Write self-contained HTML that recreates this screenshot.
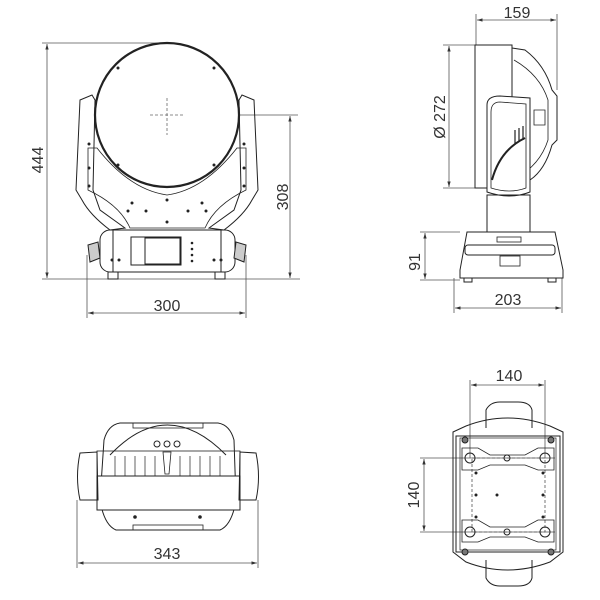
<!DOCTYPE html>
<html><head><meta charset="utf-8"><style>
html,body{margin:0;padding:0;background:#fff}
svg{display:block}
text{font-family:"Liberation Sans",sans-serif;font-size:16px;fill:#333}
</style></head><body>
<svg width="600" height="600" viewBox="0 0 600 600" xmlns="http://www.w3.org/2000/svg">
<defs>
<marker id="a" viewBox="0 0 10 10" refX="10" refY="5" markerWidth="7" markerHeight="7" orient="auto-start-reverse"><path d="M0,2 L10,5 L0,8z" fill="#333"/></marker>
</defs>
<g stroke="#555" stroke-width="0.8" fill="none">
<!-- front view dims -->
<line x1="42" y1="43" x2="167" y2="43"/>
<line x1="47" y1="44" x2="47" y2="278" marker-start="url(#a)" marker-end="url(#a)"/>
<line x1="42" y1="279" x2="300" y2="279"/>
<line x1="183" y1="115" x2="298" y2="115"/>
<line x1="290" y1="116" x2="290" y2="278" marker-start="url(#a)" marker-end="url(#a)"/>
<line x1="87" y1="255" x2="87" y2="318"/>
<line x1="246" y1="255" x2="246" y2="318"/>
<line x1="88" y1="313" x2="245" y2="313" marker-start="url(#a)" marker-end="url(#a)"/>
<!-- side view dims -->
<line x1="476" y1="14" x2="476" y2="45"/>
<line x1="557" y1="14" x2="557" y2="90"/>
<line x1="477" y1="20" x2="556" y2="20" marker-start="url(#a)" marker-end="url(#a)"/>
<line x1="443" y1="45" x2="475" y2="45"/>
<line x1="443" y1="188" x2="480" y2="188"/>
<line x1="449" y1="46" x2="449" y2="187" marker-start="url(#a)" marker-end="url(#a)"/>
<line x1="420" y1="232" x2="460" y2="232"/>
<line x1="420" y1="280" x2="460" y2="280"/>
<line x1="425" y1="233" x2="425" y2="279" marker-start="url(#a)" marker-end="url(#a)"/>
<line x1="454" y1="278" x2="454" y2="313"/>
<line x1="562" y1="278" x2="562" y2="313"/>
<line x1="455" y1="308" x2="561" y2="308" marker-start="url(#a)" marker-end="url(#a)"/>
<!-- bottom-left dims -->
<line x1="77" y1="500" x2="77" y2="568"/>
<line x1="258" y1="500" x2="258" y2="568"/>
<line x1="78" y1="563" x2="257" y2="563" marker-start="url(#a)" marker-end="url(#a)"/>
<!-- top view dims -->
<line x1="470" y1="380" x2="470" y2="458"/>
<line x1="545" y1="380" x2="545" y2="458"/>
<line x1="471" y1="385" x2="544" y2="385" marker-start="url(#a)" marker-end="url(#a)"/>
<line x1="420" y1="458" x2="555" y2="458"/>
<line x1="420" y1="532" x2="555" y2="532"/>
<line x1="424" y1="459" x2="424" y2="531" marker-start="url(#a)" marker-end="url(#a)"/>
</g>

<!-- FRONT VIEW -->
<g stroke="#222" fill="none" stroke-width="1">
<path d="M80,100 L92,95 L95,100 L93,190 L100,210 L125,228 L110,230 Q90,215 82,200 L76,190 Z"/>
<path d="M254,100 L242,95 L239,100 L241,190 L234,210 L209,228 L224,230 Q244,215 252,200 L258,190 Z"/>
<path d="M88,148 L97,148 Q130,190 167,195 Q204,190 237,148 L246,148 L246,190 Q215,205 205,228 L130,228 Q120,205 88,190 Z" stroke-width="0.8"/>
<circle cx="167" cy="115" r="72" stroke-width="2.2" fill="#fff"/>
<line x1="150" y1="115" x2="183" y2="115" stroke="#666" stroke-dasharray="3,2" stroke-width="0.8"/>
<line x1="167" y1="98" x2="167" y2="135" stroke="#666" stroke-dasharray="3,2" stroke-width="0.8"/>
<rect x="100" y="230" width="135" height="42" rx="10"/>
<rect x="113" y="230" width="108" height="42"/>
<rect x="131" y="237" width="50" height="28"/>
<rect x="145" y="238" width="35" height="26"/>
<rect x="108" y="272" width="10" height="7"/>
<rect x="215" y="272" width="10" height="7"/>
<path d="M88,245 L98,242 L100,258 L90,262 Z" fill="#ccc"/>
<path d="M246,245 L236,242 L234,258 L244,262 Z" fill="#ccc"/>
</g>
<g fill="#222">
<circle cx="118" cy="68" r="1.5"/><circle cx="214" cy="68" r="1.5"/><circle cx="118" cy="165" r="1.5"/><circle cx="214" cy="165" r="1.5"/>
<circle cx="89" cy="144" r="1.5"/><circle cx="89" cy="168" r="1.5"/><circle cx="89" cy="186" r="1.5"/><circle cx="244" cy="144" r="1.5"/><circle cx="244" cy="168" r="1.5"/><circle cx="244" cy="186" r="1.5"/>
<circle cx="132" cy="203" r="1.5"/><circle cx="167" cy="200" r="1.5"/><circle cx="202" cy="203" r="1.5"/><circle cx="128" cy="211" r="1.5"/><circle cx="146" cy="211" r="1.5"/><circle cx="188" cy="211" r="1.5"/><circle cx="206" cy="211" r="1.5"/><circle cx="167" cy="222" r="1.5"/>
<circle cx="192" cy="243" r="1.3"/><circle cx="192" cy="249" r="1.3"/><circle cx="192" cy="255" r="1.3"/><circle cx="192" cy="261" r="1.3"/>
<circle cx="112" cy="260" r="1.5"/><circle cx="119" cy="260" r="1.5"/><circle cx="214" cy="260" r="1.5"/><circle cx="221" cy="260" r="1.5"/>
</g>

<!-- SIDE VIEW -->
<g stroke="#222" fill="none" stroke-width="1">
<path d="M512,48 L525,50 Q545,65 552,90 L557,96 L557,140 L552,145 Q545,170 530,180 L512,185"/>
<path d="M514,60 Q540,75 548,100 L548,140 Q540,165 516,178" stroke-width="0.8"/>
<rect x="475" y="45" width="37" height="143" fill="#fff"/>
<path d="M487,105 Q487,96 500,96 L530,98 L530,192 Q510,200 487,192 Z" fill="#fff"/>
<path d="M491,112 Q491,102 500,102 L526,104 L526,188 Q510,194 491,188 Z" stroke-width="0.8"/>
<path d="M492,180 Q500,150 525,138" stroke-width="2"/>
<path d="M515,145 L515,130 M519,142 L519,128 M523,140 L523,126" stroke-width="1.2"/>
<path d="M534,110 L545,110 L545,125 L534,125 Z" stroke-width="0.8"/>
<rect x="487" y="195" width="43" height="37"/>
<path d="M467,232 L555,232 L563,270 L563,278 L460,278 L460,270 Z"/>
<rect x="465" y="245" width="90" height="10" rx="3"/>
<rect x="464" y="278" width="8" height="4"/><rect x="548" y="278" width="8" height="4"/>
<rect x="500" y="256" width="20" height="10" stroke-width="0.8"/>
<rect x="497" y="237" width="24" height="5" stroke-width="0.8"/>
</g>

<!-- BOTTOM-LEFT VIEW -->
<g stroke="#222" fill="none" stroke-width="1">
<path d="M104,440 Q108,425 120,423 L218,423 Q230,425 234,440 L236,500 Q232,525 220,530 L116,530 Q104,525 100,500 Z"/>
<path d="M110,455 Q167,395 226,455" stroke-width="1"/>
<rect x="97" y="451" width="143" height="25" stroke-width="0.8"/>
<rect x="97" y="476" width="143" height="34" fill="#fff"/>
<path d="M80,453 L97,452 L98,500 L80,500 Q75,477 80,453 Z"/>
<path d="M256,453 L240,452 L239,500 L256,500 Q261,477 256,453 Z"/>
<rect x="133" y="423" width="70" height="5" stroke-width="0.8"/>
<rect x="133" y="525" width="70" height="5" stroke-width="0.8"/>
<circle cx="157" cy="444" r="3"/><circle cx="167" cy="444" r="3"/><circle cx="177" cy="444" r="3"/>
<path d="M115,456 L115,476 M125,456 L125,476 M135,456 L135,476 M145,456 L145,476 M155,456 L155,476 M180,456 L180,476 M190,456 L190,476 M200,456 L200,476 M210,456 L210,476 M220,456 L220,476" stroke-width="0.7"/>
<path d="M163,452 L171,452 L169,474 L165,474 Z" stroke-width="0.8"/>
</g>
<circle cx="135" cy="517" r="1.8" fill="#222"/><circle cx="200" cy="517" r="1.8" fill="#222"/>

<!-- TOP VIEW -->
<g stroke="#222" fill="none" stroke-width="1">
<path d="M486,428 L486,410 Q490,402 500,402 L518,402 Q530,402 532,410 L532,428"/>
<path d="M486,560 L486,578 Q490,586 500,586 L518,586 Q530,586 532,578 L532,560"/>
<path d="M466,426 Q507,410 550,426 L563,432 L563,552 L550,562 Q507,578 466,562 L453,552 L453,432 Z"/>
<rect x="456" y="436" width="104" height="116"/>
<rect x="460" y="438" width="96" height="112" stroke-width="0.7"/>
<rect x="472" y="458" width="73" height="74" stroke-dasharray="3,2" stroke="#555" stroke-width="0.8"/>
<path d="M462,448 L478,448 L490,455 L525,455 L538,448 L554,448 L554,470 L538,470 L525,465 L490,465 L478,470 L462,470 Z" stroke-width="0.8"/>
<path d="M462,520 L478,520 L490,527 L525,527 L538,520 L554,520 L554,542 L538,542 L525,537 L490,537 L478,542 L462,542 Z" stroke-width="0.8"/>
<circle cx="470" cy="458" r="5"/><circle cx="545" cy="458" r="5"/><circle cx="470" cy="532" r="5"/><circle cx="545" cy="532" r="5"/>
<circle cx="507" cy="458" r="3"/><circle cx="507" cy="532" r="3"/>
<circle cx="465" cy="440" r="3" fill="#777"/><circle cx="551" cy="440" r="3" fill="#777"/><circle cx="465" cy="552" r="3" fill="#777"/><circle cx="551" cy="552" r="3" fill="#777"/>
</g>
<g fill="#222"><circle cx="476" cy="473" r="1.5"/><circle cx="543" cy="473" r="1.5"/><circle cx="476" cy="495" r="1.5"/><circle cx="497" cy="495" r="1.5"/><circle cx="543" cy="495" r="1.5"/><circle cx="476" cy="517" r="1.5"/><circle cx="543" cy="517" r="1.5"/></g>

<!-- labels -->
<text x="167" y="311" text-anchor="middle">300</text>
<text transform="translate(43,160) rotate(-90)" text-anchor="middle">444</text>
<text transform="translate(288,197) rotate(-90)" text-anchor="middle">308</text>
<text x="517" y="18" text-anchor="middle">159</text>
<text transform="translate(445,117) rotate(-90)" text-anchor="middle">Ø 272</text>
<text transform="translate(420,262) rotate(-90)" text-anchor="middle">91</text>
<text x="508" y="305" text-anchor="middle">203</text>
<text x="167" y="559" text-anchor="middle">343</text>
<text x="509" y="381" text-anchor="middle">140</text>
<text transform="translate(419,495) rotate(-90)" text-anchor="middle">140</text>
</svg>
</body></html>
